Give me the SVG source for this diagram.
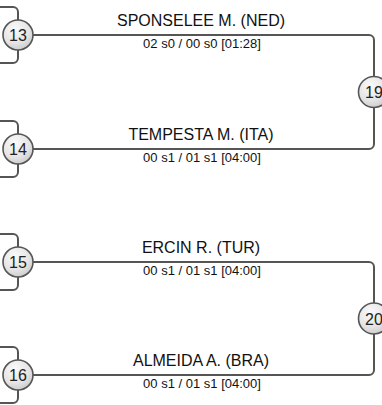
<svg xmlns="http://www.w3.org/2000/svg" width="382" height="405" viewBox="0 0 382 405">
<defs>
<radialGradient id="g" cx="0.4" cy="0.3" r="0.8">
<stop offset="0" stop-color="#fafafa"/>
<stop offset="0.6" stop-color="#e4e4e4"/>
<stop offset="1" stop-color="#c4c4c4"/>
</radialGradient>
<style>
.ln{fill:none;stroke:#555;stroke-width:2}
.nd{fill:url(#g);stroke:#555;stroke-width:1.6}
.num{font-family:"Liberation Sans",Arial,sans-serif;font-size:16px;fill:#222;text-anchor:middle}
.name{font-family:"Liberation Sans",Arial,sans-serif;font-size:16px;fill:#111;text-anchor:middle}
.score{font-family:"Liberation Sans",Arial,sans-serif;font-size:13px;fill:#111;text-anchor:middle}
</style>
</defs>
<g id="connectors">
<path class="ln" d="M0,7 H13 A5,5 0 0 1 18,12 V58 A5,5 0 0 1 13,63 H0"/>
<path class="ln" d="M0,121 H13 A5,5 0 0 1 18,126 V172 A5,5 0 0 1 13,177 H0"/>
<path class="ln" d="M0,234 H13 A5,5 0 0 1 18,239 V285 A5,5 0 0 1 13,290 H0"/>
<path class="ln" d="M0,347 H13 A5,5 0 0 1 18,352 V398 A5,5 0 0 1 13,403 H0"/>
<path class="ln" d="M33,35 H369 A5,5 0 0 1 374,40 V144 A5,5 0 0 1 369,149 H33"/>
<path class="ln" d="M33,262 H369 A5,5 0 0 1 374,267 V370 A5,5 0 0 1 369,375 H33"/>
</g>
<g id="node13"><circle class="nd" cx="18" cy="35" r="15"/><text class="num" x="18" y="41">13</text></g>
<g id="node14"><circle class="nd" cx="18" cy="149" r="15"/><text class="num" x="18" y="155">14</text></g>
<g id="node15"><circle class="nd" cx="18" cy="262" r="15"/><text class="num" x="18" y="268">15</text></g>
<g id="node16"><circle class="nd" cx="18" cy="375" r="15"/><text class="num" x="18" y="381">16</text></g>
<g id="node19"><circle class="nd" cx="374" cy="92" r="15.5"/><text class="num" x="374" y="98">19</text></g>
<g id="node20"><circle class="nd" cx="374" cy="318.5" r="15.5"/><text class="num" x="374" y="324.5">20</text></g>
<g id="labels">
<text class="name" x="201" y="26">SPONSELEE M. (NED)</text>
<text class="score" x="202" y="48">02 s0 / 00 s0 [01:28]</text>
<text class="name" x="201" y="140">TEMPESTA M. (ITA)</text>
<text class="score" x="202" y="162">00 s1 / 01 s1 [04:00]</text>
<text class="name" x="201" y="253">ERCIN R. (TUR)</text>
<text class="score" x="202" y="275">00 s1 / 01 s1 [04:00]</text>
<text class="name" x="201" y="366">ALMEIDA A. (BRA)</text>
<text class="score" x="202" y="388">00 s1 / 01 s1 [04:00]</text>
</g>
</svg>
